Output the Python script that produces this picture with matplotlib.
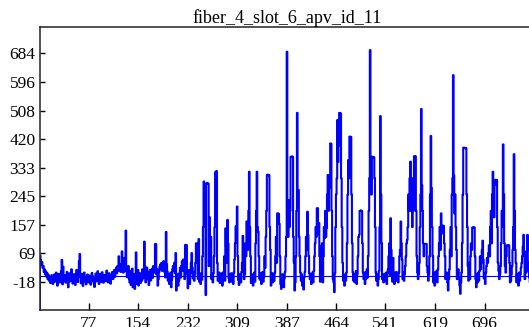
import numpy as np
import matplotlib
matplotlib.use("Agg")
import matplotlib.pyplot as plt

plt.rcParams['font.family'] = ['Liberation Serif', 'DejaVu Serif']

title = "fiber_4_slot_6_apv_id_11"

# raw frame, one value per sample (pedestal subtracted)
base = [
    -110, 62, 48, 35, 42, 25, 30, 12, 20, 5, 14, -2, 8, -10, 3, -15, -4, -22, -8, 2,
    -12, -25, -6, 4, -18, -9, 10, -14, -30, -5, 6, -11, -20, -3, 15, -8, -26, 28, -4, -16,
    2, -21, -7, 12, -13, -35, -2, 8, -17, -6, 20, -10, -24, -1, 5, -15, -28, -9, 18, -5,
    -19, 3, 45, -12, -4, -23, 6, -14, -31, -7, 10, -3, -18, -26, -11, 4, -8, -20, 1, -13,
    -27, -6, 9, -15, -2, -22, -34, -10, 7, -17, -5, 14, -12, -25, -3, 6, -19, -8, 11, -14,
    -21, -4, 3, -16, -9, 16, -7, -20, -1, 8, -13, -24, 2, -6, 12, -10, 5, 18, -3, 10,
    25, 8, 30, 15, 60, 22, 35, 12, 28, 75, 18, 10, 55, 20, 14, 5, 26, -4, 12, 30,
    -8, -20, 15, -28, -10, 22, -35, -14, 6, -40, -18, 12, -25, -5, 18, -30, -12, 8, -22, 4,
    -15, 20, -8, 10, 15, 30, -20, 5, 25, -10, 12, -28, 0, 18, -14, 8, 22, -6, 30, 10,
    15, 25, -18, 5, 20, -30, -10, 12, 28, 35, 20, 40, 15, 30, 45, 25, 10, -5, 20, 35,
    12, -15, 5, -25, -8, 10, -35, -12, 20, 30, 15, 40, 8, -20, -45, -10, 5, -30, -15, 8,
    25, -5, 30, 45, 15, 50, 20, -10, 35, 10, -20, 5, -38, -12, 18, -25, 8, 40, 15, 25,
    -8, 12, -15, 5, 40, 100, 20, 60, -10, 5, -18, -2, -25, 8, -12, 60, 150, 0, 0, 0,
    0, 0, 0, 0, 0, 0, 180, 60, 120, -10, 5, -20, 8, 60, 150, 0, 0, 0, 0, -15,
    -5, 10, -22, 3, -12, 8, -30, -6, 12, 60, -15, 0, 90, 40, 0, 100, -8, -20, 5, -12,
    8, -18, 2, -25, 10, 50, 100, 0, 120, 0, 60, -12, -28, 5, -8, -20, 12, 40, 0, 80,
    -10, 5, 100, 60, 0, 150, 80, 200, 0, 150, 60, -22, 5, -10, -30, -3, 10, -18, 100, 200,
    0, 150, 0, 60, -8, -12, 8, -25, -5, 12, -18, -2, 60, 25, 120, 200, 0, 0, 0, 0,
    150, 80, -30, -5, 8, -20, 2, -15, 10, 60, 120, 40, 0, 0, 0, 0, 60, -25, -40, -12,
    5, -20, -35, -8, 12, 60, 120, 0, 233, 120, 233, 150, 200, 0, 0, 0, 0, 120, 40, -45,
    -20, 60, 200, 0, 0, 0, 120, 60, 10, -15, 5, -30, -10, -42, -5, 12, 60, 120, 80, 0,
    0, 60, 8, -10, 5, -25, -8, 10, -20, 15, 60, 100, 150, 120, 0, 0, 130, 0, 60, -18,
    0, 30, 100, -20, 60, 150, 0, 200, 120, 0, 250, 0, 200, 0, 270, 0, 0, 200, 60, -10,
    -20, -50, 8, 150, 250, 300, 0, 350, 400, 0, 0, 0, 300, 150, 40, -15, -10, -30, 5, -15,
    10, 100, 250, 0, 300, 0, 0, 0, 250, 100, 10, -15, 5, -20, -8, 15, -25, 5, 60, 120,
    0, 0, 0, 0, 0, 100, 10, -10, 5, -25, 12, -8, 20, -5, 60, 200, 300, 0, 366, 250,
    0, 0, 0, 0, 300, 150, 10, -15, 5, -30, -10, 15, 150, 0, 250, 100, -10, 5, -20, -8,
    5, -15, 10, -25, 8, 20, 60, 100, 0, 0, 80, 5, -18, 0, 10, -25, 8, -5, 12, -15,
    0, -20, 10, 60, 80, 0, 100, 50, -10, 10, -15, 5, 30, 60, 100, 0, 150, 250, 200, 300,
    0, 0, 250, 150, 300, 200, 0, 0, 0, 200, 60, 10, -10, 5, 40, 150, 250, 0, 0, 200,
    100, 60, 0, 0, 0, 0, 30, 10, -15, 5, 60, 250, 0, 0, 150, 60, -20, 10, -30, 10,
    -8, 15, -20, 20, 60, 100, 150, 80, 0, 130, 0, 0, 0, 100, 60, -10, 5, 10, -20, -45,
    -10, 20, 80, 150, 60, 250, 300, 0, 0, 0, 250, 150, 80, -10, 5, 20, -5, -30, -55, -20,
    10, 100, 250, 0, 0, 0, 0, 0, 250, 150, 30, -15, 40, -10, 60, 100, 80, 0, 0, 0,
    0, 60, -10, -35, 5, -20, 10, -15, 15, 60, 20, 40, 80, 0, 50, -8, -8, -25, 10, 30,
    55, 40, 70, 0, 60, 150, 200, 100, 250, 0, 240, 180, 280, 0, 0, 0, 150, 40, 15, -10,
    5, 30, 100, 200, 150, 0, 250, 100, 30, 10, 60, 0, 0, 0, 0, 40, -20, -15, 5, 30,
    80, 150, 0, 200, 80, 40, -20, 5, -10, -30, 10, -15, 5, 25, 40, 60, 90, 0, 75, -10,
    30, 10, 0, 126, 40, 15, -5, -20, 10, -8, 5, -15, 2, -6,
]

# strip hits: sample index -> adc value
hits = {
    35: 49, 63: 67,
    135: 139, 151: 72, 164: 105, 181: 98, 182: 98, 198: 135, 213: 70,
    228: 95, 229: 95, 230: 94, 238: 70, 246: 100, 249: 113,
    257: 290, 258: 244, 259: 240, 260: -59, 261: 284, 262: 285, 263: 284, 264: 283, 265: 30,
    275: 318, 276: 320, 277: 322, 278: 40,
    291: 146, 294: 172, 307: 152, 309: 213, 318: 123, 324: 167, 328: 320, 340: 320, 342: 136,
    356: 310, 357: 311, 358: 310, 359: 309,
    372: 192, 373: 192, 374: 190, 375: 160,
    387: 689, 393: 366, 394: 366, 395: 367, 396: 365,
    403: 501, 404: 264, 405: 264,
    419: 197, 420: 126, 434: 208, 435: 208, 437: 162, 440: 90,
    446: 116, 449: 147, 451: 310, 453: 274, 455: 407, 456: 406,
    466: 479, 469: 501, 470: 500, 471: 499,
    483: 356, 485: 428, 486: 428, 487: 427,
    500: 126, 501: 200, 502: 200, 503: 201, 504: 199,
    517: 694, 520: 366, 521: 366, 522: 365, 523: 364,
    533: 491, 549: 177, 553: 55, 565: 167, 575: 110,
    580: 351, 581: 200, 586: 368, 587: 368, 588: 367,
    597: 513, 598: 279, 602: 98, 603: 98, 604: 98, 605: 98, 612: 430, 613: 270,
    628: 192, 630: 154, 631: 154, 632: 153,
    647: 617, 648: 310, 649: 192,
    663: 394, 664: 394, 665: 393, 666: 393, 667: 392,
    677: 149, 678: 149, 679: 148, 680: 149,
    693: 108, 703: 94, 709: 320, 713: 295, 714: 295, 715: 294,
    725: 404, 731: 94, 732: 94, 733: 93, 734: 94,
    742: 374, 757: 126, 762: 76,
}

adc = np.array(base, dtype=float)
for i, v in hits.items():
    adc[i] = v
samples = np.arange(len(adc))

xticks = [77, 154, 232, 309, 387, 464, 541, 619, 696]
yticks = [-18, 69, 157, 245, 333, 420, 508, 596, 684]

fig = plt.figure(figsize=(5.29, 3.27), dpi=100)
ax = fig.add_axes([0.0747, 0.052, 0.9357, 0.8664])

# one flat step per sample
ax.plot(samples, adc, color='#0000ff', lw=1.5, drawstyle='steps-mid')
ax.axhline(0, color='#0000ff', lw=0.8)

ax.set_xlim(0, 774)
ax.set_ylim(-105, 766)
ax.set_xticks(xticks)
ax.set_yticks(yticks)
ax.set_xticklabels([str(t) for t in xticks])
ax.set_yticklabels([str(t) for t in yticks])

ax.tick_params(axis='both', direction='in', labelsize=12.5, width=1.0, colors='black')
ax.tick_params(axis='x', length=5, pad=4)
ax.tick_params(axis='y', length=3.5, pad=3)
ax.spines['right'].set_visible(False)
for s in ['left', 'top', 'bottom']:
    ax.spines[s].set_linewidth(1.1)
    ax.spines[s].set_color('#222222')

ax.set_title(title, fontsize=13, pad=2.5)

fig.savefig("out.png", dpi=100)
